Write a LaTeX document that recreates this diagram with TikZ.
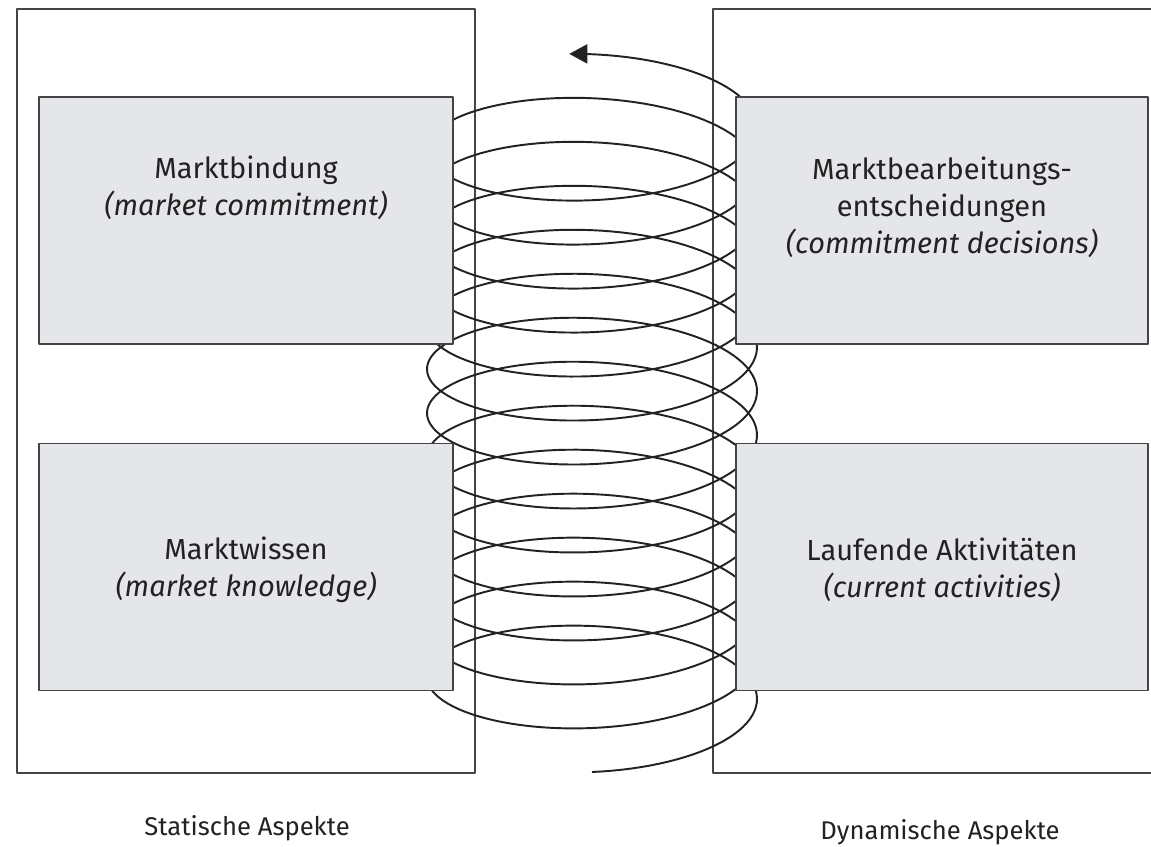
\documentclass[tikz,border=0pt]{standalone}
\usepackage{fontspec}
\setmainfont{Fira Sans}
\usetikzlibrary{arrows.meta}
\definecolor{boxgray}{HTML}{E4E6E9}
\definecolor{linegray}{HTML}{444444}
\definecolor{inkgray}{HTML}{222222}

\begin{document}
\begin{tikzpicture}[x=0.02cm, y=-0.02cm, line join=round, >={Triangle[length=0.36cm, width=0.38cm]},
  frame/.style={draw=linegray, line width=1.2pt},
  box/.style={draw=linegray, line width=1pt, fill=boxgray, inner sep=0pt, minimum height=4.94cm},
  boxtext/.style={align=center, text=inkgray, font=\fontsize{16.5}{21}\selectfont},
  aspect/.style={text=inkgray, font=\fontsize{14.6}{18}\selectfont},
  coil/.style={draw=inkgray, line width=1.1pt}]
\useasboundingbox (0,0) rectangle (1151,847);
\node[frame, minimum width=9.16cm, minimum height=15.28cm] (static) at (246,391) {};
\draw[frame] (1160,9) -- (713,9) -- (713,773) -- (1160,773);
\draw[coil, ->] plot[domain=0:84.975, samples=1400] ({592+165*sin(\x r)}, {710-7*\x+62*cos(\x r)});
\node[box, minimum width=8.28cm] (mb) at (246,220.5) {};
\node[box, minimum width=8.28cm] (mw) at (246,567) {};
\node[box, minimum width=8.24cm] (md) at (942,220.5) {};
\node[box, minimum width=8.24cm] (la) at (942,567) {};
\node[boxtext] (mbtext) at (246,188) {Marktbindung\\\textit{(market commitment)}};
\node[boxtext] (mdtext) at (942,207) {Marktbearbeitungs-\\entscheidungen\\\textit{(commitment decisions)}};
\node[boxtext] (mwtext) at (246,570) {Marktwissen\\\textit{(market knowledge)}};
\node[boxtext] (latext) at (942,570) {Laufende Aktivitäten\\\textit{(current activities)}};
\node[aspect] (stat) at (247,828) {Statische Aspekte};
\node[aspect] (dyn) at (940,832) {Dynamische Aspekte};
\end{tikzpicture}
\end{document}
